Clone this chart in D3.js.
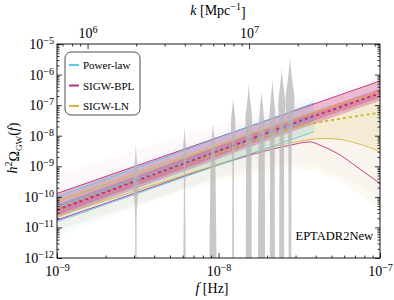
<!DOCTYPE html>
<html>
<head>
<meta charset="utf-8">
<script src="https://cdn.jsdelivr.net/npm/d3@7"></script>
<style>
  body { margin: 0; background: #fff; }
  svg, svg text { font-family: "Liberation Serif", "Times New Roman", Times, serif; }
</style>
</head>
<body>
<div id="chart"></div>
<script>
// values, stored as log10 of h^2 Omega_GW
const fGrid = [1e-9, 3.16e-9, 1e-8, 3.16e-8, 5.62e-8, 1e-7];

const bplUpper  = [-9.89, -8.97, -8.05, -7.13, -6.67, -6.21];
const bplMedian = [-10.43, -9.46, -8.5, -7.53, -7.07, -6.61];
const bplLowerF = [1e-9, 3.16e-9, 1e-8, 2.77e-8, 3.69e-8, 4.25e-8, 5.65e-8, 7.2e-8, 1e-7];
const bplLower  = [-10.76, -9.85, -8.95, -8.31, -8.2, -8.31, -8.63, -9.02, -9.56];
const bplBandLo = [-10.68, -9.71, -8.75, -7.78, -7.32, -6.86];
const bplCoreLo = [-10.6, -9.62, -8.66, -7.68, -7.22, -6.76];
const bplCoreHi = [-10.26, -9.3, -8.34, -7.38, -6.92, -6.46];
const bplFaintHi = [-9.3, -8.45, -7.65, -6.85, -6.45, -6.05];
const bplFaintLo = [-11.1, -10.2, -9.4, -8.9, -9.3, -10.0];

const lnUpper  = [-10.13, -9.22, -8.31, -7.4, -6.98, -6.57];
const lnMedian = [-10.36, -9.45, -8.56, -7.7, -7.45, -7.25];
const lnLowerF = [1e-9, 3.16e-9, 1e-8, 2.77e-8, 4.5e-8, 5.65e-8, 7.2e-8, 8.6e-8, 1e-7];
const lnLower  = [-10.63, -9.78, -8.93, -8.24, -8.09, -8.12, -8.25, -8.38, -8.53];
const lnBandLo = [-10.6, -9.75, -8.9, -8.15, -8.1, -8.5];
const lnFaintHi = [-10.0, -9.1, -8.2, -7.3, -6.9, -6.5];
const lnFaintLo = [-11.1, -10.3, -9.5, -9.1, -9.5, -10.5];

const plF = [1e-9, 1e-8, 3.9e-8];
const plUpper  = [-10.0, -8.07, -6.93];
const plMedian = [-10.32, -8.49, -7.4];
const plLower  = [-10.81, -8.96, -7.87];
const plFaintHi = [-9.8, -7.9, -6.8];
const plFaintLo = [-11.3, -9.3, -8.1];

// EPTA DR2new frequency bins and violin densities [log10 Omega, density]
const violinF = [3.08e-9, 6.16e-9, 9.24e-9, 1.232e-8, 1.54e-8, 1.848e-8, 2.156e-8, 2.464e-8, 2.772e-8];
const violinDens = [
  [[-8.25,0],[-8.8,0.15],[-9.2,0.4],[-9.55,0.6],[-9.9,0.45],[-10.3,0.2],[-10.8,0.14],[-11.5,0.14],[-13,0.16]],
  [[-7.7,0],[-8.1,0.12],[-8.45,0.35],[-8.8,0.18],[-9.5,0.12],[-10.5,0.14],[-11.5,0.22],[-13,0.28]],
  [[-7.6,0],[-8.0,0.2],[-8.6,0.45],[-9.3,0.55],[-10,0.55],[-11,0.65],[-12,0.7],[-13,0.7]],
  [[-6.8,0],[-7.2,0.25],[-7.6,0.55],[-8.0,0.3],[-8.5,0.15],[-9.5,0.15],[-10.5,0.17],[-13,0.2]],
  [[-6.3,0],[-6.8,0.2],[-7.2,0.6],[-7.6,0.7],[-8.0,0.55],[-8.6,0.5],[-9.5,0.55],[-10.5,0.6],[-13,0.6]],
  [[-6.6,0],[-7.0,0.3],[-7.5,0.5],[-8.0,0.6],[-9,0.65],[-10,0.65],[-11,0.7],[-13,0.7]],
  [[-6.15,0],[-6.6,0.2],[-7.0,0.45],[-7.3,0.6],[-7.8,0.5],[-8.5,0.45],[-10,0.5],[-13,0.5]],
  [[-5.8,0],[-6.2,0.2],[-6.7,0.6],[-7.0,0.75],[-7.4,0.55],[-8.0,0.45],[-9,0.45],[-10.5,0.5],[-13,0.5]],
  [[-5.42,0],[-5.8,0.15],[-6.3,0.5],[-6.7,0.95],[-7.1,0.9],[-7.5,0.6],[-8.0,0.35],[-9,0.3],[-10,0.28],[-13,0.28]]
];

const yTicks = [-12, -11, -10, -9, -8, -7, -6, -5];
const xTicks = [-9, -8, -7];
const kTicks = [6, 7];
const legendNames = ["Power-law", "SIGW-BPL", "SIGW-LN"];
const colors = {pl: "#5fc6e6", bpl: "#bf2f78", ln: "#d2b53a"};

const serif = "Liberation Serif, Times New Roman, serif";
const margin = {top: 44, right: 14, bottom: 42, left: 57},
    width = 394 - margin.left - margin.right,
    height = 300 - margin.top - margin.bottom;

const svg = d3.select("#chart").append("svg")
    .attr("width", 394).attr("height", 300).attr("font-family", serif);
const g = svg.append("g")
    .attr("transform", `translate(${margin.left},${margin.top})`);

const x = d3.scaleLog().domain([1e-9, 1e-7]).range([0, width]);
const y = d3.scaleLog().domain([1e-12, 1e-5]).range([height, 0]);
// k = 2 pi f / c in Mpc^-1
const kFactor = 2 * Math.PI / 9.716e-15;
const xk = d3.scaleLog().domain([1e-9 * kFactor, 1e-7 * kFactor]).range([0, width]);
const wScale = d3.scaleLinear().domain([0, 1]).range([0, 5]);

svg.append("defs").append("clipPath").attr("id", "clip")
  .append("rect").attr("width", width).attr("height", height);
const plot = g.append("g").attr("clip-path", "url(#clip)");

const line = d3.line().x(d => x(d[0])).y(d => y(Math.pow(10, d[1]))).curve(d3.curveMonotoneX);
const area = d3.area().x(d => x(d[0])).y0(d => y(Math.pow(10, d[1]))).y1(d => y(Math.pow(10, d[2])))
  .curve(d3.curveMonotoneX);
const zip = (fs, a) => fs.map((f, i) => [f, a[i]]);
const zip3 = (fs, a, b) => fs.map((f, i) => [f, a[i], b[i]]);

// faint posterior spreads
plot.append("path").attr("d", area(zip3(fGrid, lnFaintLo, lnFaintHi)))
  .attr("fill", colors.ln).attr("opacity", 0.06);
plot.append("path").attr("d", area(zip3(fGrid, bplFaintLo, bplFaintHi)))
  .attr("fill", colors.bpl).attr("opacity", 0.035);
plot.append("path").attr("d", area(zip3(plF, plFaintLo, plFaintHi)))
  .attr("fill", colors.pl).attr("opacity", 0.06);

// inner bands
plot.append("path").attr("d", area(zip3(fGrid, lnBandLo, lnUpper)))
  .attr("fill", colors.ln).attr("opacity", 0.14);
plot.append("path").attr("d", area(zip3(plF, plLower, plUpper)))
  .attr("fill", colors.pl).attr("opacity", 0.15);
plot.append("path").attr("d", area(zip3(fGrid, bplBandLo, bplUpper)))
  .attr("fill", colors.bpl).attr("opacity", 0.3);
plot.append("path").attr("d", area(zip3(fGrid, bplCoreLo, bplCoreHi)))
  .attr("fill", colors.bpl).attr("opacity", 0.3);

// 95% bounds
const solid = [
  [fGrid, bplUpper, colors.bpl], [bplLowerF, bplLower, colors.bpl],
  [fGrid, lnUpper, colors.ln], [lnLowerF, lnLower, colors.ln],
  [plF, plUpper, colors.pl], [plF, plLower, colors.pl]
];
solid.forEach(s => {
  plot.append("path").attr("d", line(zip(s[0], s[1])))
    .attr("fill", "none").attr("stroke", s[2]).attr("stroke-width", 0.9);
});

// medians
const dashed = [[fGrid, lnMedian, colors.ln], [plF, plMedian, colors.pl], [fGrid, bplMedian, colors.bpl]];
dashed.forEach(s => {
  plot.append("path").attr("d", line(zip(s[0], s[1])))
    .attr("fill", "none").attr("stroke", s[2]).attr("stroke-width", 2)
    .attr("stroke-dasharray", "3,3");
});

// violins
const violinArea = d3.area()
  .x0(d => -wScale(d[1])).x1(d => wScale(d[1]))
  .y(d => y(Math.pow(10, d[0]))).curve(d3.curveBasis);
violinF.forEach((f, i) => {
  plot.append("path")
    .attr("transform", `translate(${x(f)},0)`)
    .attr("d", violinArea(violinDens[i]))
    .attr("fill", "#b5b5b5").attr("opacity", 0.75);
});

// axes
function sup(sel, base, expFn) {
  sel.selectAll(".tick text").each(function(d) {
    const t = d3.select(this);
    t.text(null);
    t.append("tspan").text(base);
    t.append("tspan").attr("dy", "-0.5em").attr("font-size", "0.72em").text(expFn(d));
  });
}
const minor = (lo, hi) => {
  const out = [];
  for (let e = lo; e < hi; e++) for (let m = 2; m <= 9; m++) out.push(m * Math.pow(10, e));
  return out;
};
const fmtExp = e => String(e).replace("-", "\u2212");

const axisStyle = sel => {
  sel.attr("font-family", serif);
  sel.select(".domain").remove();
  sel.selectAll(".tick line").attr("stroke", "#000").attr("stroke-width", 0.8);
  sel.selectAll(".tick text").attr("font-size", 14).attr("fill", "#000");
};

g.append("g").attr("transform", `translate(0,${height})`)
  .call(d3.axisBottom(x).tickValues(xTicks.map(e => Math.pow(10, e))).tickSizeInner(-5).tickSizeOuter(0).tickPadding(8))
  .call(axisStyle).call(s => sup(s, "10", d => fmtExp(Math.round(Math.log10(d)))));
g.append("g").attr("transform", `translate(0,${height})`)
  .call(d3.axisBottom(x).tickValues(minor(-9, -7)).tickSizeInner(-2.5).tickSizeOuter(0).tickFormat(""))
  .call(axisStyle);

g.append("g")
  .call(d3.axisLeft(y).tickValues(yTicks.map(e => Math.pow(10, e))).tickSizeInner(-5).tickSizeOuter(0).tickPadding(3))
  .call(axisStyle).call(s => sup(s, "10", d => fmtExp(Math.round(Math.log10(d)))));
g.append("g")
  .call(d3.axisLeft(y).tickValues(minor(-12, -5)).tickSizeInner(-2.5).tickSizeOuter(0).tickFormat(""))
  .call(axisStyle);
g.append("g").attr("transform", `translate(${width},0)`)
  .call(d3.axisRight(y).tickValues(yTicks.map(e => Math.pow(10, e))).tickSizeInner(-5).tickSizeOuter(0).tickFormat(""))
  .call(axisStyle);
g.append("g").attr("transform", `translate(${width},0)`)
  .call(d3.axisRight(y).tickValues(minor(-12, -5)).tickSizeInner(-2.5).tickSizeOuter(0).tickFormat(""))
  .call(axisStyle);

// top k axis
const kMinor = [7e5, 8e5, 9e5].concat(d3.range(2, 10).map(m => m * 1e6), d3.range(2, 7).map(m => m * 1e7));
g.append("g")
  .call(d3.axisTop(xk).tickValues(kTicks.map(e => Math.pow(10, e))).tickSizeInner(-5).tickSizeOuter(0).tickPadding(6))
  .call(axisStyle).call(s => sup(s, "10", d => fmtExp(Math.round(Math.log10(d)))));
g.append("g")
  .call(d3.axisTop(xk).tickValues(kMinor).tickSizeInner(-2.5).tickSizeOuter(0).tickFormat(""))
  .call(axisStyle);

g.append("rect").attr("width", width).attr("height", height)
  .attr("fill", "none").attr("stroke", "#000").attr("stroke-width", 0.9);

// axis titles
const fl = svg.append("text").attr("x", 212).attr("y", 293).attr("text-anchor", "middle").attr("font-size", 14);
fl.append("tspan").attr("font-style", "italic").text("f");
fl.append("tspan").text(" [Hz]");

const kl = svg.append("text").attr("x", 218).attr("y", 15).attr("text-anchor", "middle").attr("font-size", 14);
kl.append("tspan").attr("font-style", "italic").text("k");
kl.append("tspan").text(" [Mpc");
kl.append("tspan").attr("dy", "-0.5em").attr("font-size", "0.72em").text("\u22121");
kl.append("tspan").attr("dy", "0.5em").text("]");

const yl = svg.append("text").attr("transform", "translate(17,148) rotate(-90)")
  .attr("text-anchor", "middle").attr("font-size", 14);
yl.append("tspan").attr("font-style", "italic").text("h");
yl.append("tspan").attr("dy", "-0.5em").attr("font-size", "0.72em").text("2");
yl.append("tspan").attr("dy", "0.5em").text("\u03A9");
yl.append("tspan").attr("dy", "0.3em").attr("font-size", "0.65em").text("GW");
yl.append("tspan").attr("dy", "-0.3em").text("(");
yl.append("tspan").attr("font-style", "italic").text("f");
yl.append("tspan").text(")");

// dataset label
g.append("text").attr("x", width - 7).attr("y", 196).attr("text-anchor", "end")
  .attr("font-size", 12.5).text("EPTADR2New");

// legend
const lg = g.append("g").attr("transform", "translate(8,8)");
lg.append("rect").attr("width", 75).attr("height", 63).attr("rx", 6)
  .attr("fill", "#fff").attr("fill-opacity", 0.85).attr("stroke", "#222").attr("stroke-width", 0.8);
const legColors = [colors.pl, colors.bpl, colors.ln];
legendNames.forEach((name, i) => {
  const row = lg.append("g").attr("transform", `translate(0,${13 + i * 20.5})`);
  row.append("line").attr("x1", 4).attr("x2", 14).attr("stroke", legColors[i]).attr("stroke-width", 2);
  row.append("text").attr("x", 18).attr("y", 4).attr("font-size", 11).text(name);
});
</script>
</body>
</html>
